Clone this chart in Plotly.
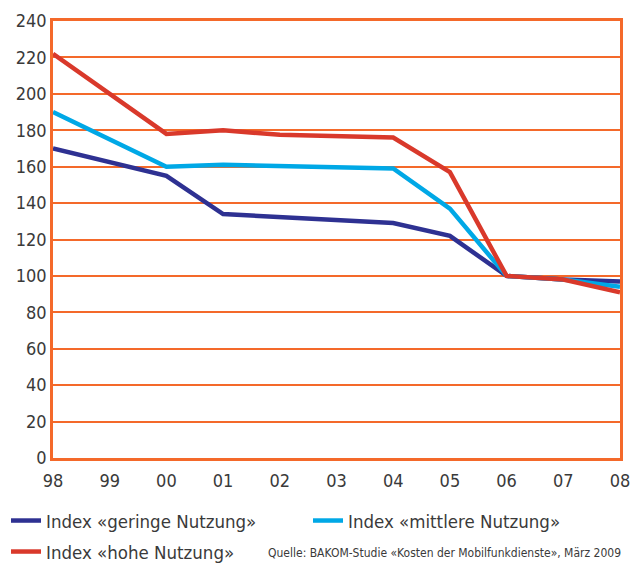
import plotly.graph_objects as go

years = ["98", "99", "00", "01", "02", "03", "04", "05", "06", "07", "08"]
geringe = [170, None, 155, 134, None, None, 129, 122, 100, 98, 97]
mittlere = [190, None, 160, 161, None, None, 159, 137, 100, 98, 94]
hohe = [222, None, 178, 180, 177.5, None, 176, 157, 100, 98, 91]
y_ticks = list(range(0, 241, 20))

names = ["Index «geringe Nutzung»", "Index «mittlere Nutzung»", "Index «hohe Nutzung»"]
colors = ["#2E3192", "#00A8E6", "#D9392B"]
series = [geringe, mittlere, hohe]
legends = ["legend", "legend2", "legend3"]

FONT = "DejaVu Sans Condensed, Liberation Sans Narrow, Liberation Sans, sans-serif"
ORANGE = "#F4692A"
TXT = "#3a3a3a"

PL, PR, PT, PB = 53, 12, 21, 106
W, H = 632, 564
pw, ph = W - PL - PR, H - PT - PB

def px_x(x):
    return (x - PL) / pw

def px_y(y):
    return (H - PB - y) / ph

xpos = list(range(len(years)))
fig = go.Figure()
for name, col, vals, lg in zip(names, colors, series, legends):
    fig.add_trace(go.Scatter(
        x=xpos, y=vals, mode="lines", name=name, connectgaps=True,
        line=dict(color=col, width=4.5), legend=lg,
    ))

leg_common = dict(orientation="h", xanchor="left", yanchor="top",
                  font=dict(size=18.5), bgcolor="rgba(0,0,0,0)", itemwidth=30)

fig.update_layout(
    width=W, height=H,
    margin=dict(l=PL, r=PR, t=PT, b=PB, autoexpand=False),
    paper_bgcolor="white", plot_bgcolor="white",
    font=dict(family=FONT, size=18, color=TXT),
    hovermode=False,
    xaxis=dict(
        range=[0, 10], tickmode="array", tickvals=xpos, ticktext=years,
        showgrid=False, showline=True, linecolor=ORANGE, linewidth=2.5, mirror=True,
        ticks="", zeroline=False, tickfont=dict(size=18), automargin=False,
        ticklabelstandoff=5,
    ),
    yaxis=dict(
        range=[0, 240], tickmode="array", tickvals=y_ticks,
        showgrid=True, gridcolor=ORANGE, gridwidth=1.5,
        showline=True, linecolor=ORANGE, linewidth=2.5, mirror=True,
        ticks="", zeroline=False, tickfont=dict(size=18), automargin=False,
    ),
    legend=dict(x=px_x(6), y=px_y(502), **leg_common),
    legend2=dict(x=px_x(308), y=px_y(502), **leg_common),
    legend3=dict(x=px_x(6), y=px_y(533), **leg_common),
    showlegend=True,
)

fig.add_annotation(
    text="Quelle: BAKOM-Studie «Kosten der Mobilfunkdienste», März 2009",
    xref="paper", yref="paper", x=px_x(623), y=px_y(553), xanchor="right", yanchor="middle",
    showarrow=False, font=dict(size=12, color=TXT, family=FONT),
)

fig.write_html(
    "out.html",
    config={"displayModeBar": False},
    post_script="document.body.style.margin='0';document.body.style.padding='0';",
)
